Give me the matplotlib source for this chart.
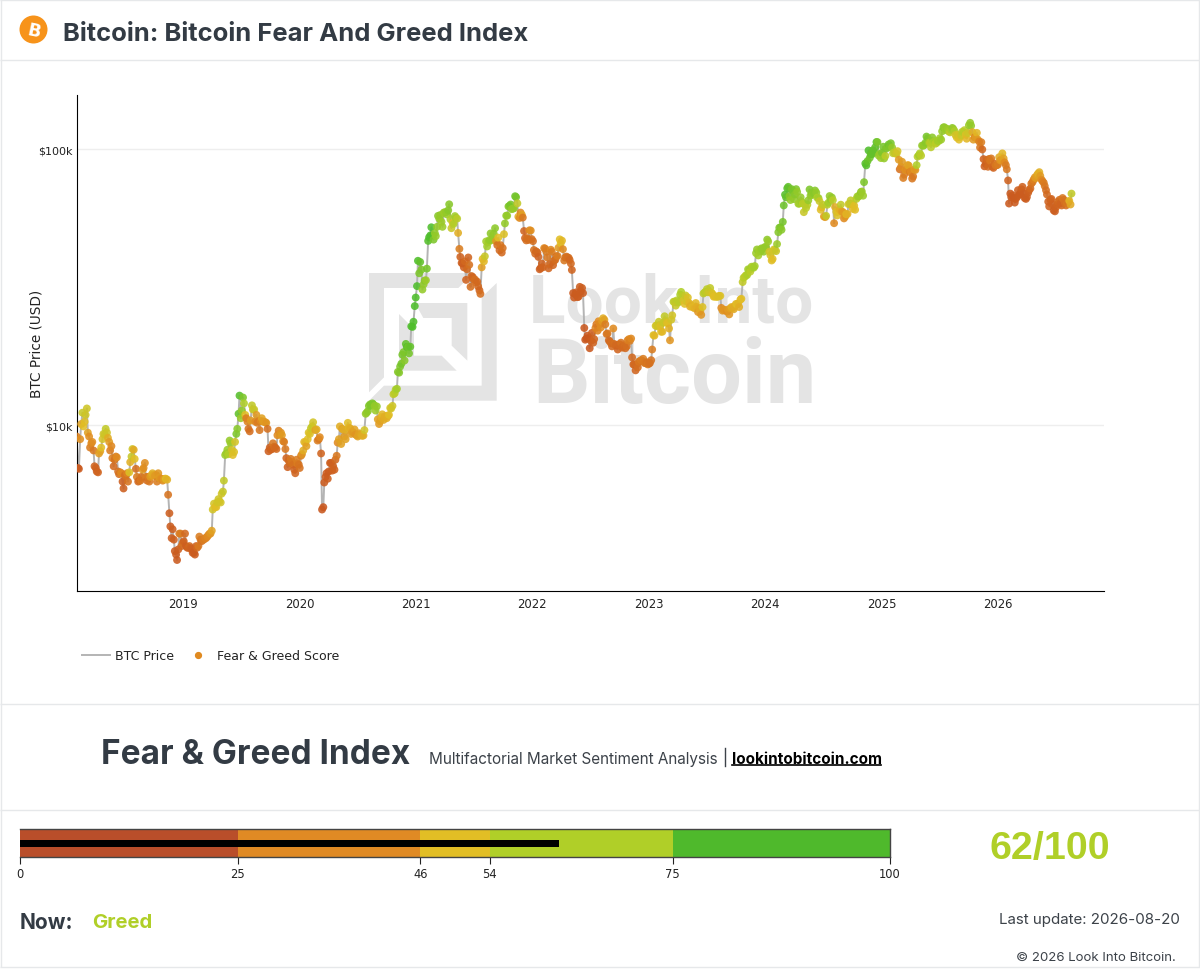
import numpy as np
import pandas as pd
import matplotlib
matplotlib.use('Agg')
import matplotlib.pyplot as plt
from matplotlib.colors import LinearSegmentedColormap
from matplotlib.lines import Line2D
from matplotlib.patches import Circle, Polygon

# Readings, one list per year. thu_* are Thursdays from 2018-02-01,
# mon_* are the Mondays right after them (from 2018-02-05).
thu_price_2018 = [9100, 6950, 10100, 9900, 10900, 9400, 8300, 8700, 7100, 6800, 7900, 8300, 9300,
                  9700, 9000, 8100, 7600, 7500, 7650, 6650, 6700, 5900, 6550, 6250, 7350, 8200,
                  7550, 6500, 6300, 6500, 7000, 6500, 6500, 6500, 6700, 6550, 6250, 6450, 6400,
                  6350, 6400, 5600, 4300, 4200, 3500, 3250, 4050, 3650]
thu_price_2019 = [3800, 3650, 3600, 3590, 3450, 3400, 3600, 3950, 3800, 3850, 3900, 4000, 4050,
                  4950, 5050, 5250, 5300, 5650, 6300, 7900, 7850, 8600, 7800, 8700, 9700, 12800,
                  11300, 12000, 10600, 9700, 10400, 11400, 10300, 10200, 9600, 10600, 10300, 10200, 8050,
                  8150, 8600, 8300, 9200, 9250, 9200, 8700, 7600, 7450, 7550, 7200, 6700, 7250]
thu_price_2020 = [7000, 7850, 8700, 8400, 9400, 9750, 10250, 9600, 8800, 9050, 4950, 6200, 6700,
                  6800, 7300, 7100, 7500, 8650, 9900, 9700, 9100, 9600, 9800, 9300, 9400, 9250,
                  9100, 9250, 9150, 9600, 11100, 11750, 11750, 11900, 11300, 10500, 10350, 10950, 10700,
                  10600, 10900, 11500, 12950, 13450, 15600, 16300, 18000, 17150, 19200, 18200, 22800, 23700,
                  29000]
thu_price_2021 = [39400, 39000, 31000, 33400, 36900, 47900, 52100, 47000, 48400, 57300, 57700, 52300, 59000,
                  58000, 63100, 51700, 53600, 56400, 49700, 40700, 38500, 39200, 36700, 38100, 34700, 33600,
                  32900, 31800, 29900, 40000, 40900, 44400, 46800, 46900, 49300, 46400, 47800, 44900, 43800,
                  53800, 57400, 62200, 60600, 61000, 67000, 56900, 58900, 56500, 47600, 47600, 50800, 47200]
thu_price_2022 = [43100, 42600, 40700, 37100, 37300, 43600, 40500, 38300, 42500, 39400, 40900, 43900, 45600,
                  43400, 40500, 40500, 39700, 36500, 29000, 30300, 29200, 30500, 30100, 20400, 21100, 19000,
                  21600, 20500, 23200, 23800, 22600, 24400, 23200, 21500, 20100, 19300, 19700, 19400, 19600,
                  19900, 19300, 19000, 20300, 20200, 17600, 16600, 16600, 17000, 17200, 17400, 16800, 16600]
thu_price_2023 = [16800, 18800, 21100, 23000, 23700, 21800, 23500, 23900, 23400, 20300, 25000, 28000, 28300,
                  28000, 30400, 28300, 29500, 29000, 26900, 26800, 26500, 26800, 26500, 25100, 30000, 30400,
                  30300, 31400, 29900, 29300, 29200, 29400, 26600, 26200, 26000, 26200, 26500, 26600, 27000,
                  27400, 26800, 28700, 34200, 34900, 36700, 36000, 37300, 37700, 43300, 43000, 43700, 42500]
thu_price_2024 = [44200, 46300, 41300, 40000, 43100, 45300, 51900, 51000, 62500, 66900, 73000, 65400, 70800,
                  68500, 70000, 63500, 64500, 59100, 61200, 65200, 67900, 68400, 70800, 66700, 64800, 61600,
                  57000, 57300, 63900, 65800, 65300, 61700, 57500, 60400, 59400, 56100, 58100, 63200, 65200,
                  60700, 60300, 67400, 68100, 70200, 75900, 87300, 98900, 95900, 99000, 101500, 106000, 96000]
thu_price_2025 = [97000, 92500, 100500, 103900, 105000, 96600, 96500, 98300, 84500, 90000, 80900, 84200, 87200,
                  83100, 79600, 84000, 93900, 96500, 103000, 103500, 111000, 105700, 101500, 105700, 104600, 107000,
                  109500, 116000, 120000, 118500, 115800, 117500, 118300, 112500, 112500, 110700, 115500, 117100, 109000,
                  122000, 121500, 108200, 110000, 108300, 101300, 99700, 86600, 91300, 92100, 92500, 85500, 87200]
thu_price_2026 = [87800, 91000, 96500, 89500, 84500, 63500, 67000, 66500, 66000, 71000, 68500, 73000, 66500,
                  67000, 71000, 75000, 77500, 78500, 81500, 80000, 76500, 73500, 68500, 62000, 66000, 60000,
                  61500, 64500, 63500, 66500, 64000, 63500, 65000, 69000]

thu_score_2018 = [32, 10, 42, 50, 56, 42, 30, 36, 20, 16, 40, 50, 56,
                  60, 45, 30, 30, 26, 35, 24, 34, 14, 26, 26, 46, 56,
                  50, 30, 22, 26, 36, 30, 30, 40, 46, 40, 30, 40, 36,
                  40, 50, 26, 12, 14, 12, 10, 28, 22]
thu_score_2019 = [18, 15, 20, 18, 12, 12, 22, 30, 25, 30, 32, 35, 38,
                  55, 50, 55, 55, 55, 60, 70, 65, 70, 50, 55, 75, 88,
                  72, 65, 30, 25, 40, 58, 35, 30, 28, 42, 40, 38, 15,
                  20, 28, 22, 35, 38, 40, 30, 20, 22, 28, 25, 20, 30]
thu_score_2020 = [25, 38, 48, 42, 52, 58, 55, 42, 30, 35, 8, 12, 12,
                  12, 15, 18, 22, 35, 45, 42, 40, 45, 48, 40, 40, 38,
                  42, 42, 45, 55, 72, 76, 78, 78, 70, 42, 42, 48, 45,
                  45, 50, 55, 60, 65, 75, 78, 80, 75, 88, 80, 90, 92,
                  94]
thu_score_2021 = [93, 85, 72, 75, 80, 92, 92, 78, 72, 75, 72, 70, 70,
                  72, 75, 58, 65, 68, 45, 18, 15, 22, 22, 25, 22, 22,
                  24, 22, 24, 48, 58, 68, 72, 72, 72, 40, 50, 28, 25,
                  72, 72, 78, 72, 72, 80, 45, 35, 28, 20, 25, 35, 25]
thu_score_2022 = [25, 22, 18, 15, 20, 30, 28, 22, 30, 22, 25, 40, 50,
                  35, 25, 25, 22, 20, 10, 12, 12, 12, 12, 8, 8, 8,
                  15, 20, 28, 35, 35, 45, 30, 28, 22, 22, 25, 22, 22,
                  25, 22, 22, 30, 30, 22, 22, 22, 28, 30, 30, 28, 28]
thu_score_2023 = [25, 30, 48, 55, 58, 50, 58, 58, 50, 38, 55, 60, 62,
                  62, 65, 55, 58, 52, 45, 48, 46, 45, 44, 38, 60, 60,
                  58, 60, 52, 50, 50, 52, 35, 38, 38, 40, 42, 45, 45,
                  50, 45, 50, 62, 62, 68, 62, 65, 68, 72, 68, 72, 72]
thu_score_2024 = [72, 70, 55, 50, 55, 70, 78, 75, 82, 85, 85, 72, 80,
                  75, 72, 68, 70, 58, 62, 72, 72, 72, 75, 65, 58, 48,
                  42, 60, 68, 72, 62, 45, 52, 46, 42, 35, 48, 55, 60,
                  48, 50, 68, 70, 70, 78, 88, 92, 85, 85, 85, 78, 72]
thu_score_2025 = [78, 72, 78, 82, 80, 60, 58, 55, 25, 40, 30, 35, 42,
                  35, 28, 38, 62, 65, 72, 72, 80, 70, 62, 65, 62, 68,
                  68, 72, 72, 72, 68, 68, 70, 55, 55, 52, 62, 62, 48,
                  70, 72, 40, 40, 40, 28, 22, 15, 22, 25, 28, 20, 28]
thu_score_2026 = [30, 38, 48, 35, 28, 10, 12, 10, 12, 15, 12, 18, 12,
                  14, 18, 25, 32, 40, 45, 40, 32, 28, 22, 18, 20, 15,
                  18, 22, 20, 28, 25, 28, 48, 60]

mon_price_2018 = [7000, 8900, 11100, 10300, 11500, 9100, 8600, 8100, 7000, 6750, 8050, 8900, 9250,
                  9400, 8700, 8400, 7100, 7700, 6800, 6750, 6250, 6600, 6700, 6750, 7700, 8150,
                  6950, 6250, 6300, 6900, 7300, 6300, 6250, 6600, 6600, 6600, 6700, 6400, 6300,
                  6400, 6350, 4800, 3900, 3850, 3400, 3550, 4050, 3750]
mon_price_2019 = [4050, 3600, 3650, 3550, 3450, 3650, 3650, 3850, 3850, 3900, 3950, 4050, 4150,
                  5200, 5050, 5400, 5250, 5750, 7800, 8150, 8800, 8150, 8000, 9300, 11000, 10600,
                  12600, 10900, 10300, 9500, 11800, 11400, 10900, 10350, 10350, 10300, 10250, 9700, 8300,
                  8200, 8350, 8200, 9550, 9400, 8750, 8200, 7050, 7300, 7350, 6900, 7500, 7200]
mon_price_2020 = [7750, 8100, 8650, 8900, 9300, 9900, 9700, 9650, 8900, 7900, 5050, 6500, 6400,
                  7300, 6850, 6900, 7750, 8900, 8550, 9650, 8900, 10200, 9750, 9450, 9650, 9200,
                  9350, 9250, 9180, 11000, 11250, 11900, 12000, 11750, 11700, 10100, 10700, 10450, 10800,
                  10800, 11550, 11750, 13050, 13550, 15500, 16700, 18400, 19700, 19200, 19250, 22700, 27000,
                  31900]
mon_price_2021 = [35500, 36600, 32400, 33500, 46500, 48700, 48800, 49600, 52300, 55900, 54500, 58900, 59100,
                  60000, 55700, 54000, 57200, 56000, 43500, 38700, 37300, 33600, 40500, 31700, 34400, 33700,
                  33100, 30800, 37300, 39200, 46300, 46000, 49500, 47000, 51700, 44900, 43000, 42200, 49200,
                  57400, 62000, 63000, 60900, 67500, 63600, 56300, 57800, 50500, 46700, 46900, 50700, 46400]
mon_price_2022 = [41800, 42200, 36700, 38500, 43800, 42500, 37000, 43200, 38000, 39700, 41000, 47100, 46600,
                  39500, 40800, 40400, 38500, 30100, 29800, 29100, 31700, 31400, 22500, 20600, 20700, 20200,
                  19900, 22500, 22000, 23300, 23800, 24100, 21400, 20300, 19800, 22400, 19500, 18800, 19600,
                  19100, 19500, 19300, 20500, 20600, 16600, 15800, 16200, 17000, 17100, 16800, 16900, 16700]
mon_price_2023 = [17200, 21200, 22900, 22800, 22900, 21800, 24800, 23500, 22400, 24100, 28000, 27100, 27800,
                  29700, 29400, 27500, 28100, 27700, 27200, 26800, 27700, 25700, 25900, 26800, 30300, 31100,
                  30400, 30200, 29200, 29200, 29200, 29400, 26000, 26100, 25800, 25200, 26800, 26300, 27500,
                  27600, 28500, 33000, 34500, 35000, 36500, 37500, 37200, 42000, 41200, 42600, 43600, 44200]
mon_price_2024 = [47000, 42500, 39500, 43300, 42700, 50000, 52100, 54500, 68400, 72100, 67600, 71600, 65900,
                  71600, 63400, 66900, 63500, 63200, 62900, 71400, 69300, 69000, 69600, 66500, 60300, 62800,
                  56700, 62900, 67600, 66800, 53900, 59300, 59400, 62900, 59100, 57000, 58200, 63300, 63300,
                  62400, 66000, 67300, 69900, 67800, 88700, 90500, 93000, 95800, 97400, 106100, 94700, 92800]
mon_price_2025 = [102000, 94500, 102000, 101900, 101400, 97400, 96100, 91500, 86200, 78600, 84000, 87500, 82500,
                  78200, 84500, 87500, 95000, 94700, 102800, 105500, 109400, 105400, 110200, 106800, 105400, 107100,
                  108200, 119800, 117300, 118000, 115000, 119300, 116200, 110100, 108200, 112100, 115300, 112700, 114300,
                  124500, 115200, 110500, 114500, 106500, 105900, 92000, 88300, 86300, 90600, 86400, 88600, 87500]
mon_price_2026 = [93500, 91300, 92500, 87500, 77000, 69000, 68000, 64000, 67000, 68500, 71500, 69000, 66000,
                  69500, 72000, 76000, 79000, 80500, 82500, 77500, 75500, 71000, 64500, 65500, 63000, 59500,
                  63000, 65500, 62500, 65500, 62500, 64500, 63000]

mon_score_2018 = [12, 36, 58, 50, 56, 36, 34, 28, 18, 20, 42, 54, 56,
                  56, 40, 34, 22, 30, 24, 30, 14, 26, 32, 52, 58, 44,
                  24, 22, 28, 40, 36, 24, 28, 42, 44, 40, 38, 38, 34,
                  42, 46, 14, 14, 16, 12, 14, 30, 24]
mon_score_2019 = [22, 15, 22, 16, 12, 15, 28, 28, 30, 32, 34, 36, 42,
                  55, 50, 56, 55, 58, 70, 70, 72, 55, 52, 78, 85, 70,
                  78, 50, 32, 24, 60, 58, 40, 30, 35, 40, 40, 25, 16,
                  20, 25, 22, 30, 38, 36, 28, 16, 24, 28, 18, 30, 26]
mon_score_2020 = [30, 45, 48, 50, 52, 60, 55, 45, 28, 20, 8, 12, 14,
                  16, 16, 18, 28, 42, 42, 45, 42, 50, 45, 42, 42, 38,
                  42, 44, 45, 72, 74, 78, 78, 72, 72, 40, 46, 44, 46,
                  46, 55, 56, 62, 68, 76, 80, 78, 85, 82, 85, 90, 93,
                  95]
mon_score_2021 = [78, 78, 72, 70, 88, 90, 92, 72, 72, 72, 70, 70, 72,
                  75, 65, 50, 68, 62, 30, 15, 15, 18, 20, 24, 20, 24,
                  22, 20, 40, 48, 68, 68, 74, 72, 74, 25, 22, 22, 52,
                  72, 75, 80, 72, 82, 60, 35, 42, 20, 24, 24, 36, 24]
mon_score_2022 = [22, 22, 15, 18, 35, 30, 20, 34, 20, 24, 30, 50, 48,
                  28, 26, 24, 22, 10, 12, 12, 14, 14, 8, 8, 8, 12,
                  18, 32, 32, 34, 40, 42, 25, 22, 24, 35, 22, 20, 22,
                  22, 24, 24, 34, 34, 20, 20, 24, 26, 28, 28, 26, 26]
mon_score_2023 = [26, 52, 55, 56, 52, 48, 60, 52, 46, 55, 62, 58, 60,
                  66, 62, 50, 55, 48, 46, 48, 48, 38, 44, 52, 64, 62,
                  56, 56, 50, 50, 52, 52, 38, 38, 36, 38, 46, 44, 48,
                  48, 48, 60, 62, 66, 68, 68, 68, 70, 68, 70, 72, 72]
mon_score_2024 = [74, 55, 50, 55, 58, 76, 78, 80, 88, 88, 76, 80, 72,
                  78, 68, 72, 62, 62, 62, 78, 75, 75, 72, 68, 50, 60,
                  40, 62, 72, 72, 35, 52, 50, 60, 40, 38, 46, 58, 58,
                  50, 62, 70, 74, 70, 88, 84, 82, 85, 85, 88, 72, 70]
mon_score_2025 = [80, 62, 78, 78, 72, 62, 56, 40, 35, 30, 38, 42, 30,
                  28, 40, 65, 68, 62, 72, 75, 78, 62, 74, 68, 62, 68,
                  70, 76, 70, 70, 60, 74, 66, 52, 50, 58, 64, 52, 56,
                  72, 45, 34, 48, 32, 30, 18, 16, 22, 28, 22, 24, 28]
mon_score_2026 = [44, 40, 42, 30, 18, 10, 12, 10, 12, 14, 16, 12, 12,
                  16, 22, 28, 38, 42, 46, 36, 30, 24, 18, 20, 18, 14,
                  20, 24, 20, 26, 24, 26, 44]

year_ticks = ['2019', '2020', '2021', '2022', '2023', '2024', '2025', '2026']
price_ticks = [10000, 100000]
price_tick_labels = ['$10k', '$100k']

gauge_edges = [0, 25, 46, 54, 75, 100]
gauge_colors = ['#B94E2A', '#E08A24', '#E2BE25', '#B0CF28', '#4FB92C']
current_score = 62
current_label = 'Greed'
last_update = '2026-08-20'

DARK = '#333B44'
GREY = '#E4E4E4'
BORDER = '#E6E8EA'
LIME = '#B0CF28'
W, H = 1200, 970

thu_prices = np.concatenate([thu_price_2018, thu_price_2019, thu_price_2020, thu_price_2021, thu_price_2022,
                             thu_price_2023, thu_price_2024, thu_price_2025, thu_price_2026])
thu_scores = np.concatenate([thu_score_2018, thu_score_2019, thu_score_2020, thu_score_2021, thu_score_2022,
                             thu_score_2023, thu_score_2024, thu_score_2025, thu_score_2026])
mon_prices = np.concatenate([mon_price_2018, mon_price_2019, mon_price_2020, mon_price_2021, mon_price_2022,
                             mon_price_2023, mon_price_2024, mon_price_2025, mon_price_2026])
mon_scores = np.concatenate([mon_score_2018, mon_score_2019, mon_score_2020, mon_score_2021, mon_score_2022,
                             mon_score_2023, mon_score_2024, mon_score_2025, mon_score_2026])

# merge both readings into one time series
df = pd.concat([
    pd.DataFrame({'date': pd.date_range('2018-02-01', periods=len(thu_prices), freq='7D'),
                  'price': thu_prices, 'score': thu_scores}),
    pd.DataFrame({'date': pd.date_range('2018-02-05', periods=len(mon_prices), freq='7D'),
                  'price': mon_prices, 'score': mon_scores}),
]).sort_values('date')

score_cmap = LinearSegmentedColormap.from_list('fear_greed', [
    (0.00, '#C4501F'), (0.20, '#D0641F'), (0.35, '#E08A20'), (0.50, '#E2BE25'),
    (0.65, '#B0CF28'), (0.90, '#4FBE2C'), (1.00, '#4FBE2C')])


def px_axes(x0, y0, x1, y1, **kwargs):
    # axes from pixel box, y measured from the top of the figure
    return fig.add_axes([x0 / W, 1 - y1 / H, (x1 - x0) / W, (y1 - y0) / H], **kwargs)


def logo_poly(points):
    return [(360 + x / 3, 265 + y / 3) for x, y in points]


fig = plt.figure(figsize=(W / 100, H / 100), dpi=100, facecolor='white')

# page layer in pixel coordinates: borders, header, watermark, text
page = px_axes(0, 0, W, H, zorder=0)
page.set_xlim(0, W)
page.set_ylim(H, 0)
page.axis('off')

for y in [0.5, 61, 705, 811, 968]:
    page.plot([0, W], [y, y], color=BORDER, lw=1, solid_capstyle='butt')
for x in [0.5, 1198.5]:
    page.plot([x, x], [0, 968], color=BORDER, lw=1, solid_capstyle='butt')

page.add_patch(Circle((33.5, 30.5), 14, color='#F7931A', lw=0))
page.text(33.7, 31, 'B', color='white', fontsize=12.5, fontweight='bold', family='DejaVu Sans',
          rotation=-12, ha='center', va='center')
page.text(63, 34.5, 'Bitcoin: Bitcoin Fear And Greed Index', color=DARK, fontsize=18.45, fontweight='bold',
          family='Inter', va='center')

logo_shapes = [
    [(27, 27), (340, 27), (295, 72), (72, 72), (72, 340), (27, 385)],
    [(410, 57), (410, 410), (27, 410), (72, 365), (365, 365), (365, 100)],
    [(165, 117), (322, 117), (322, 290), (275, 245), (275, 162), (190, 162)],
    [(117, 150), (162, 195), (162, 275), (245, 275), (290, 320), (117, 320)],
]
for shape in logo_shapes:
    page.add_patch(Polygon(logo_poly(shape), closed=True, color=GREY, lw=0))
page.text(529, 323, 'Look Into', color=GREY, fontsize=48.6, family='Roboto', fontweight='bold', va='baseline')
page.text(532, 403, 'Bitcoin', color=GREY, fontsize=65, family='Roboto', fontweight='bold', va='baseline')

page.text(101, 755, 'Fear & Greed Index', color=DARK, fontsize=24, fontweight='bold', family='Inter', va='center')
page.text(429, 760, 'Multifactorial Market Sentiment Analysis', color='#3C4249', fontsize=11,
          family='Inter', va='center')
page.plot([724.5, 724.5], [749, 767], color='#3C4249', lw=1)
page.text(732, 760, 'lookintobitcoin.com', color='black', fontsize=11, fontweight='bold', family='Inter',
          va='center')
page.plot([732, 881], [765.5, 765.5], color='black', lw=1.2)

page.text(1049.5, 849, f'{current_score}/100', color=LIME, fontsize=28.4, fontweight='bold',
          family='Liberation Sans', ha='center', va='center')
page.text(20, 923, 'Now:', color=DARK, fontsize=15, fontweight='bold', family='Inter', va='center')
page.text(92, 923, current_label, color=LIME, fontsize=14.6, fontweight='bold', family='Inter', va='center')
page.text(1180, 920, f'Last update: {last_update}', color='#3C4249', fontsize=10.9, family='Inter',
          ha='right', va='center')
page.text(1176, 958, '© 2026 Look Into Bitcoin.', color='#3C4249', fontsize=9.5, family='Inter',
          ha='right', va='center')

# price chart
ax = px_axes(77, 96, 1104, 591.5, zorder=1)
ax.patch.set_alpha(0)
ax.plot(df['date'], df['price'], color='#B4B4B4', lw=1.4, zorder=2)
ax.scatter(df['date'], df['price'], c=df['score'], cmap=score_cmap, vmin=0, vmax=100, s=32, alpha=0.88,
           linewidths=0, zorder=3)

ax.set_yscale('log')
ax.set_ylim(2520, 157000)
ax.set_xlim(pd.Timestamp('2018-02-02'), pd.Timestamp('2026-11-30'))
ax.set_yticks(price_ticks)
ax.set_yticklabels(price_tick_labels)
ax.minorticks_off()
ax.set_xticks([pd.Timestamp(f'{y}-01-01') for y in year_ticks])
ax.set_xticklabels(year_ticks)
ax.tick_params(axis='both', length=0, colors='#222222')
ax.tick_params(axis='x', pad=5, labelsize=8.4)
ax.tick_params(axis='y', pad=3, labelsize=8)
ax.grid(axis='y', color='#EEEEEE', lw=1)
ax.set_axisbelow(True)
ax.spines['top'].set_visible(False)
ax.spines['right'].set_visible(False)
ax.spines['left'].set_color('black')
ax.spines['bottom'].set_color('black')
ax.set_ylabel('BTC Price (USD)', fontsize=9.8, color='#222222', labelpad=0)
ax.yaxis.set_label_coords(-33 / 1027, 0.5)

legend_handles = [
    Line2D([], [], color='#B4B4B4', lw=1.4, label='BTC Price'),
    Line2D([], [], color='#E08A20', marker='o', markersize=4.2, lw=0, label='Fear & Greed Score'),
]
fig.legend(handles=legend_handles, loc='center left', bbox_to_anchor=(71 / W, 1 - 657 / H), ncol=2, frameon=False,
           fontsize=9, handlelength=2.24, handletextpad=0.4, columnspacing=0.8, labelcolor='#222222')

# score gauge
gauge = px_axes(20, 830, 890, 858, zorder=1)
gauge.barh(0, np.diff(gauge_edges), left=gauge_edges[:-1], height=1, color=gauge_colors, linewidth=0)
gauge.barh(0, current_score, height=0.25, color='black', linewidth=0)
gauge.set_xlim(0, 100)
gauge.set_ylim(-0.5, 0.5)
gauge.set_yticks([])
gauge.set_xticks(gauge_edges)
gauge.set_xticklabels([str(v) for v in gauge_edges])
gauge.tick_params(axis='x', length=5, width=0.8, labelsize=8.3, colors='#222222', pad=2)
gauge.spines['left'].set_visible(False)
for side in ['top', 'bottom', 'right']:
    gauge.spines[side].set_color('#444444')
    gauge.spines[side].set_linewidth(1)

fig.savefig('out.png', dpi=100)
